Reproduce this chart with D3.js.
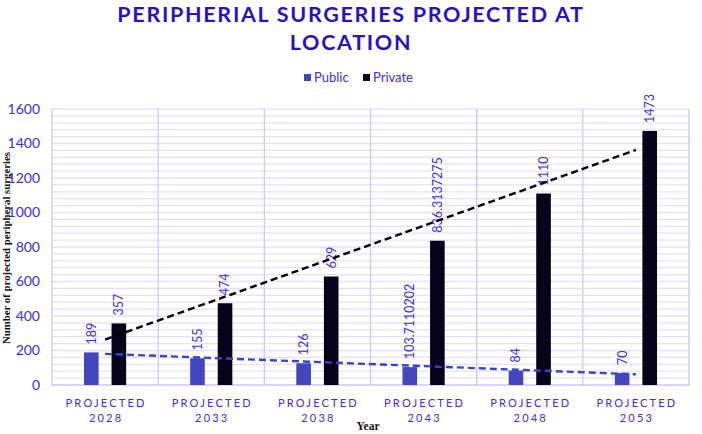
<!DOCTYPE html>
<html>
<head>
<meta charset="utf-8">
<script src="https://cdn.jsdelivr.net/npm/d3@7"></script>
<style>
  body { margin: 0; background: #fff; }
  text { font-family: Lato, "Open Sans", sans-serif; }
</style>
</head>
<body>
<div id="chart-area"></div>
<script>
// data
var years = ["2028", "2033", "2038", "2043", "2048", "2053"];
var series = ["Public", "Private"];
var publicVals = [189, 155, 126, 103.7110202, 84, 70];
var privateVals = [357, 474, 629, 836.3137275, 1110, 1473];
var publicLabels = ["189", "155", "126", "103.7110202", "84", "70"];
var privateLabels = ["357", "474", "629", "836.3137275", "1110", "1473"];
var yTicks = [0, 200, 400, 600, 800, 1000, 1200, 1400, 1600];

var W = 702, H = 434;
var margin = {top: 109, right: 13, bottom: 49, left: 52};
var width = W - margin.left - margin.right;
var height = H - margin.top - margin.bottom;

var colors = {Public: "#4346bd", Private: "#06031a"};
var textBlue = "#3b2ee6";
var gridMinor = "#e3e0fb";
var gridMajor = "#cdc7f8";

var svg = d3.select("#chart-area").append("svg")
    .attr("width", W)
    .attr("height", H);

// title
var title = svg.append("text")
    .attr("text-anchor", "middle")
    .attr("font-size", "21.5px")
    .attr("font-weight", "bold")
    .attr("letter-spacing", "1.7px")
    .style("fill", "#2a12c4");
title.append("tspan").attr("x", W / 2).attr("y", 22).text("PERIPHERIAL SURGERIES PROJECTED AT");
title.append("tspan").attr("x", W / 2).attr("y", 50).text("LOCATION");

// legend
var legend = svg.append("g");
var legX = [304, 363];
series.forEach(function(s, i) {
    var lg = legend.append("g").attr("transform", "translate(" + legX[i] + ",72)");
    lg.append("rect").attr("width", 7).attr("height", 7).attr("y", 2).style("fill", colors[s]);
    lg.append("text").attr("x", 10).attr("y", 10).attr("font-size", "13px")
        .style("fill", textBlue).text(s);
});

var g = svg.append("g")
    .attr("transform", "translate(" + margin.left + "," + margin.top + ")");

var x = d3.scaleBand().domain(years).range([0, width]).paddingInner(0).paddingOuter(0);
var x1 = d3.scaleBand().domain(series).range([0, x.bandwidth()])
    .paddingInner(0.47).paddingOuter(1.16);
var y = d3.scaleLinear().domain([0, 1600]).range([height, 0]);

// horizontal grid, minor every 40
var minor = d3.range(40, 1601, 40);
g.append("g").selectAll("line").data(minor).enter().append("line")
    .attr("x1", 0).attr("x2", width)
    .attr("y1", function(d) { return y(d); })
    .attr("y2", function(d) { return y(d); })
    .style("stroke", gridMinor)
    .style("stroke-width", 1.3);

// vertical category separators
var seps = years.map(function(d) { return x(d); }).concat([width]);
g.append("g").selectAll("line").data(seps).enter().append("line")
    .attr("x1", function(d) { return d; }).attr("x2", function(d) { return d; })
    .attr("y1", 0).attr("y2", height + 1)
    .style("stroke", gridMajor)
    .style("stroke-width", 1.3);

// baseline
g.append("line").attr("x1", 0).attr("x2", width)
    .attr("y1", height).attr("y2", height)
    .style("stroke", gridMajor).style("stroke-width", 1.5);

// y axis ticks
var yAxisGroup = g.append("g")
    .call(d3.axisLeft(y).tickValues(yTicks).tickFormat(d3.format("d")).tickSize(0).tickPadding(12));
yAxisGroup.select(".domain").remove();
yAxisGroup.selectAll("text")
    .attr("font-size", "14px")
    .attr("font-family", "Lato, sans-serif")
    .style("fill", textBlue);

// bars
var rows = years.map(function(yr, i) {
    return [
        {year: yr, key: "Public", value: publicVals[i], label: publicLabels[i]},
        {year: yr, key: "Private", value: privateVals[i], label: privateLabels[i]}
    ];
});

var groups = g.selectAll(".yr").data(rows).enter().append("g")
    .attr("transform", function(d) { return "translate(" + x(d[0].year) + ",0)"; });

groups.selectAll("rect").data(function(d) { return d; }).enter().append("rect")
    .attr("x", function(d) { return x1(d.key); })
    .attr("width", x1.bandwidth())
    .attr("y", function(d) { return y(d.value); })
    .attr("height", function(d) { return height - y(d.value); })
    .style("fill", function(d) { return colors[d.key]; });

// trend lines (linear fit over the categories)
function fit(vals) {
    var n = vals.length, mx = (n + 1) / 2, my = d3.mean(vals);
    var sxy = 0, sxx = 0;
    vals.forEach(function(v, i) { sxy += (i + 1 - mx) * (v - my); sxx += (i + 1 - mx) * (i + 1 - mx); });
    var b = sxy / sxx;
    return [my + b * (1 - mx), my + b * (n - mx)];
}
var cx = function(yr) { return x(yr) + x.bandwidth() / 2; };
[["Public", publicVals, "#3c43c4"], ["Private", privateVals, "#000000"]].forEach(function(s) {
    var ends = fit(s[1]);
    g.append("line")
        .attr("x1", cx(years[0])).attr("y1", y(ends[0]))
        .attr("x2", cx(years[years.length - 1])).attr("y2", y(ends[1]))
        .style("stroke", s[2])
        .style("stroke-width", 2.4)
        .style("stroke-dasharray", "7,4");
});

// value labels
groups.selectAll(".lbl").data(function(d) { return d; }).enter().append("text")
    .attr("class", "lbl")
    .attr("transform", function(d) {
        var bx = x1(d.key) + x1.bandwidth() / 2;
        return "translate(" + bx + "," + (y(d.value) - 8) + ") rotate(-90)";
    })
    .attr("dy", "0.35em")
    .attr("font-size", "12.5px")
    .style("fill", textBlue)
    .text(function(d) { return d.label; });

// x category labels
years.forEach(function(yr) {
    var t = g.append("text")
        .attr("text-anchor", "middle")
        .attr("font-size", "11px")
        .attr("letter-spacing", "2.2px")
        .style("fill", textBlue);
    t.append("tspan").attr("x", cx(yr) + 1).attr("y", height + 22).text("PROJECTED");
    t.append("tspan").attr("x", cx(yr) + 1).attr("y", height + 37).text(yr);
});

// axis titles
svg.append("text")
    .attr("x", 368).attr("y", 430)
    .attr("text-anchor", "middle")
    .attr("font-size", "11.5px")
    .attr("font-weight", "bold")
    .style("font-family", "'Liberation Serif', serif")
    .style("fill", "#111")
    .text("Year");

svg.append("text")
    .attr("transform", "translate(10,248) rotate(-90)")
    .attr("text-anchor", "middle")
    .attr("font-size", "10.8px")
    .attr("font-weight", "bold")
    .style("font-family", "'Liberation Serif', serif")
    .style("fill", "#111")
    .text("Number of projected peripheral surgeries");
</script>
</body>
</html>
